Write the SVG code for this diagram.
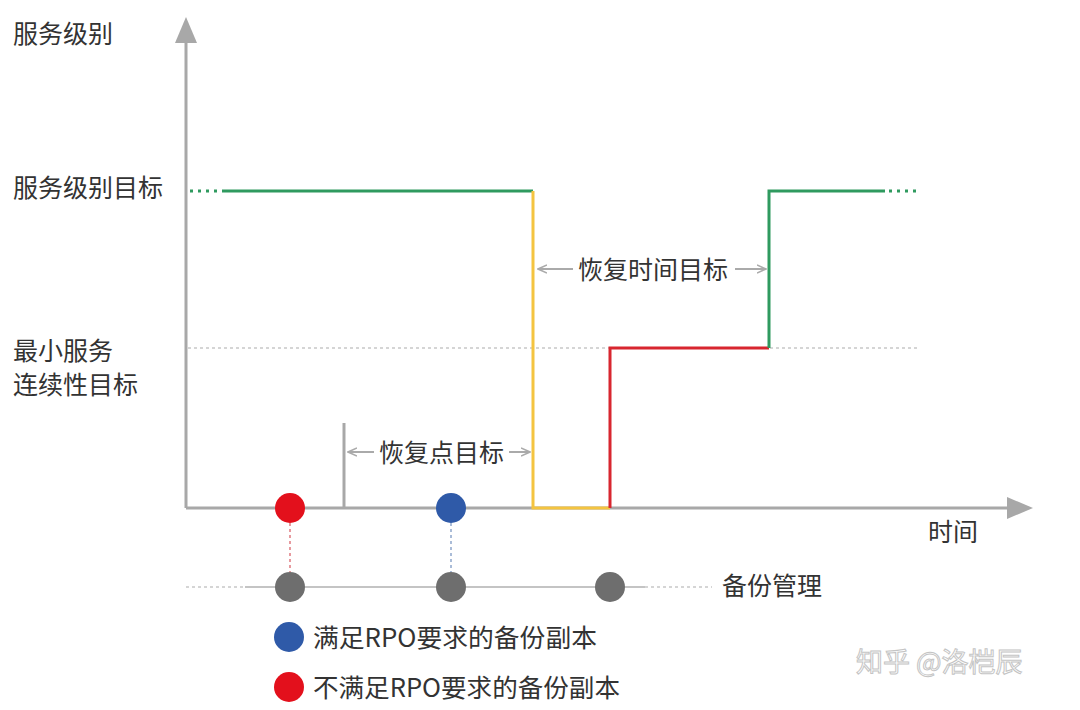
<svg xmlns="http://www.w3.org/2000/svg" width="1080" height="710" viewBox="0 0 1080 710">
<defs>
<style>
.t{font-family:"Noto Sans CJK SC","Liberation Sans",sans-serif;font-size:25px;fill:#333}
.ax{stroke:#a8a8a8;stroke-width:3;fill:none}
.dim{stroke:#aaa;stroke-width:2;fill:none}
.grid{stroke:#c8c8c8;stroke-width:1.5;stroke-dasharray:3 3;fill:none}
.g{stroke:#2f9a5f;stroke-width:3;fill:none}
.gd{stroke:#2f9a5f;stroke-width:3;stroke-dasharray:3 5;fill:none}
.y{stroke:#f4c440;stroke-width:3;fill:none}
.r{stroke:#d8262f;stroke-width:3;fill:none}
.gray{fill:#6e6e6e}
</style>
<marker id="ah" viewBox="0 0 10 10" refX="9" refY="5" markerWidth="10" markerHeight="10" markerUnits="userSpaceOnUse" orient="auto-start-reverse">
<path d="M0,1 L9,5 L0,9" fill="none" stroke="#aaa" stroke-width="1.5"/>
</marker>
</defs>
<rect width="1080" height="710" fill="#fff"/>

<g id="axes">
<line class="ax" x1="186" y1="508" x2="186" y2="38"/>
<polygon points="186,17 175,43 197,43" fill="#a8a8a8"/>
<line class="ax" x1="186" y1="508" x2="1012" y2="508"/>
<polygon points="1033,508 1007,497 1007,519" fill="#a8a8a8"/>
<text class="t" x="13" y="43">服务级别</text>
<text class="t" x="928" y="541">时间</text>
</g>

<g id="levels">
<text class="t" x="13" y="197">服务级别目标</text>
<text class="t" x="13" y="360">最小服务</text>
<text class="t" x="13" y="394">连续性目标</text>
<line class="grid" x1="188" y1="348" x2="918" y2="348"/>
</g>

<g id="service-curve">
<line class="gd" x1="190" y1="191" x2="222" y2="191"/>
<polyline class="g" points="222,191 533,191"/>
<polyline class="y" points="533,191 533,508 610,508"/>
<polyline class="r" points="610,508 610,348 769,348"/>
<polyline class="g" points="769,348 769,191 885,191"/>
<line class="gd" x1="889" y1="191" x2="918" y2="191"/>
</g>

<g id="connectors">
<line class="dim" x1="538" y1="269" x2="573" y2="269" marker-start="url(#ah)"/>
<line class="dim" x1="735" y1="269" x2="766" y2="269" marker-end="url(#ah)"/>
<line class="ax" x1="344" y1="423" x2="344" y2="508"/>
<line class="dim" x1="348" y1="452" x2="374" y2="452" marker-start="url(#ah)"/>
<line class="dim" x1="509" y1="452" x2="530" y2="452" marker-end="url(#ah)"/>
<line x1="290" y1="523" x2="290" y2="572" stroke="#e07a80" stroke-width="1.5" stroke-dasharray="3 3"/>
<line x1="451" y1="523" x2="451" y2="572" stroke="#8fa6cc" stroke-width="1.5" stroke-dasharray="3 3"/>
<line class="grid" x1="186" y1="587" x2="245" y2="587"/>
<line x1="245" y1="587" x2="645" y2="587" stroke="#c4c4c4" stroke-width="2"/>
<line class="grid" x1="645" y1="587" x2="712" y2="587"/>
</g>

<g id="rto-label"><text class="t" x="578" y="279">恢复时间目标</text></g>
<g id="rpo-label"><text class="t" x="379" y="462">恢复点目标</text></g>

<g id="copy-red"><circle cx="290" cy="508" r="15" fill="#e3101c"/></g>
<g id="copy-blue"><circle cx="451" cy="508" r="15" fill="#2f5aa8"/></g>

<g id="backup">
<circle class="gray" cx="290" cy="587" r="15"/>
<circle class="gray" cx="451" cy="587" r="15"/>
<circle class="gray" cx="610" cy="587" r="15"/>
<text class="t" x="722" y="595">备份管理</text>
</g>

<g id="legend-blue">
<circle cx="289" cy="637" r="15" fill="#2f5aa8"/>
<text class="t" x="313" y="647" textLength="284" lengthAdjust="spacingAndGlyphs">满足RPO要求的备份副本</text>
</g>
<g id="legend-red">
<circle cx="289" cy="687" r="15" fill="#e3101c"/>
<text class="t" x="313" y="697" textLength="307" lengthAdjust="spacingAndGlyphs">不满足RPO要求的备份副本</text>
</g>

<g id="watermark">
<text x="856" y="672" font-family="Noto Sans CJK SC,sans-serif" font-size="27" fill="#fff" stroke="#c4c4c4" stroke-width="1">知乎 @洛桤辰</text>
</g>
</svg>
